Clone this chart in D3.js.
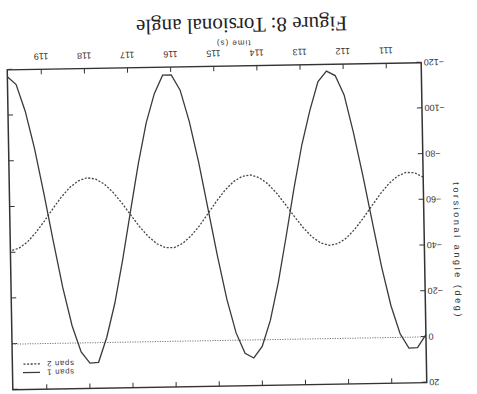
<!DOCTYPE html>
<html>
  <head>
    <meta charset="UTF-8">
    <title>Figure 8: Torsional angle</title>
    <style type="text/css">
      body { margin: 0; background: #fff; }
      svg { display: block; }
      .axis text { font-family: 'Liberation Sans', Arial, sans-serif; font-size: 9px; fill: #333; }
      .axis line { stroke: #333; stroke-width: 1; }
    </style>
  </head>
  <body>
    <script src="https://d3js.org/d3.v7.min.js"></script>
    <script>

      // Values, one sample every 0.2 s
      var time = [110.2, 110.4, 110.6, 110.8, 111.0, 111.2, 111.4, 111.6, 111.8, 112.0,
                  112.2, 112.4, 112.6, 112.8, 113.0, 113.2, 113.4, 113.6, 113.8, 114.0,
                  114.2, 114.4, 114.6, 114.8, 115.0, 115.2, 115.4, 115.6, 115.8, 116.0,
                  116.2, 116.4, 116.6, 116.8, 117.0, 117.2, 117.4, 117.6, 117.8, 118.0,
                  118.2, 118.4, 118.6, 118.8, 119.0, 119.2, 119.4, 119.6, 119.8];

      var span1 = [-1.0, 4.6, 4.8, -1.7, -14.0, -31.0, -50.9, -71.3, -90.0, -106.5,
                   -115.0, -117.0, -112.5, -100.0, -85.0, -66.0, -45.1, -25.1, -8.5, 2.9,
                   7.9, 5.8, -3.2, -17.9, -36.8, -57.6, -78.2, -96.0, -109.8, -116.5,
                   -116.5, -108.5, -95.8, -77.9, -57.2, -36.1, -17.1, -2.3, 8.6, 8.9,
                   3.9, -7.6, -24.3, -44.5, -65.6, -85.5, -101.8, -113.5, -117.0];

      var span2 = [-69.9, -71.9, -72.1, -70.5, -67.3, -62.9, -57.8, -52.6, -47.8, -43.9,
                   -41.5, -40.8, -41.9, -44.6, -48.7, -53.6, -58.9, -63.9, -68.1, -70.9,
                   -72.2, -71.6, -69.4, -65.7, -61.0, -55.7, -50.5, -46.1, -42.8, -41.0,
                   -41.0, -42.8, -46.1, -50.5, -55.7, -61.0, -65.7, -69.4, -71.6, -72.2,
                   -70.9, -68.1, -63.9, -58.9, -53.6, -48.7, -44.6, -41.9, -40.8];

      var seriesNames = ["span 1", "span 2"];
      var xTicks = [111, 112, 113, 114, 115, 116, 117, 118, 119];
      var yTicks = [-120, -100, -80, -60, -40, -20, 0, 20];

      var svgWidth = 477,
          svgHeight = 394,
          frame = {left: 10, right: 424, top: 66.25, bottom: 386.25},
          cx = (frame.left + frame.right) / 2,
          cy = (frame.top + frame.bottom) / 2,
          inkColor = "#333";

      var svg = d3.select("body")
                  .append("svg")
                  .attr("width", svgWidth)
                  .attr("height", svgHeight);

      svg.append("rect")
         .attr("width", svgWidth)
         .attr("height", svgHeight)
         .attr("fill", "#fff");

      // the scanned page is upside down and a little skewed
      var page = svg.append("g")
                    .attr("transform", "rotate(179," + cx + "," + cy + ")");

      // Scales
      var xScale = d3.scaleLinear()
                     .domain(d3.extent(time))
                     .range([frame.left, frame.right]);

      var yScale = d3.scaleLinear()
                     .domain([-120, 20])
                     .range([frame.bottom, frame.top]);

      // Axes, ticks pointing into the plot, mirrored on the other side
      var xAxis = d3.axisBottom(xScale).tickValues(xTicks).tickFormat(d3.format("d"))
                    .tickSizeInner(-5).tickSizeOuter(0).tickPadding(9.5);
      var xAxisTop = d3.axisTop(xScale).tickValues(xTicks).tickFormat("")
                       .tickSizeInner(-5).tickSizeOuter(0);
      var yAxis = d3.axisLeft(yScale).tickValues(yTicks).tickFormat(d3.format("d"))
                    .tickSizeInner(-5).tickSizeOuter(0).tickPadding(2.5);
      var yAxisRight = d3.axisRight(yScale).tickValues(yTicks).tickFormat("")
                         .tickSizeInner(-5).tickSizeOuter(0);

      page.append("g").attr("class", "axis")
          .attr("transform", "translate(0," + frame.bottom + ")")
          .call(xAxis);
      page.append("g").attr("class", "axis")
          .attr("transform", "translate(0," + frame.top + ")")
          .call(xAxisTop);
      page.append("g").attr("class", "axis")
          .attr("transform", "translate(" + frame.left + ",0)")
          .call(yAxis);
      page.append("g").attr("class", "axis")
          .attr("transform", "translate(" + frame.right + ",0)")
          .call(yAxisRight);

      page.selectAll(".axis .domain").remove();

      // zero line
      page.append("line")
          .attr("x1", xScale.range()[0])
          .attr("x2", xScale.range()[1])
          .attr("y1", yScale(0))
          .attr("y2", yScale(0))
          .attr("stroke", "#777")
          .attr("stroke-width", 1)
          .attr("stroke-dasharray", "1.2,1.3");

      // Series
      var line = d3.line()
                   .x((d, i) => xScale(time[i]))
                   .y(d => yScale(d));

      page.append("path")
          .datum(span2)
          .attr("d", line)
          .attr("fill", "none")
          .attr("stroke", "#444")
          .attr("stroke-width", 1.3)
          .attr("stroke-dasharray", "2,1.6");

      page.append("path")
          .datum(span1)
          .attr("d", line)
          .attr("fill", "none")
          .attr("stroke", "#3a3a3a")
          .attr("stroke-width", 1.3);

      // Frame
      page.append("rect")
          .attr("x", frame.left)
          .attr("y", frame.top)
          .attr("width", frame.right - frame.left)
          .attr("height", frame.bottom - frame.top)
          .attr("fill", "none")
          .attr("stroke", inkColor)
          .attr("stroke-width", 1.5);

      // Legend (top right, gnuplot style)
      var legend = page.selectAll(".legend")
                       .data(seriesNames)
                       .enter()
                       .append("g")
                       .attr("class", "legend")
                       .attr("transform", (d, i) => "translate(0," + (frame.top + 17 + i * 8.5) + ")");

      legend.append("text")
            .attr("x", frame.right - 34)
            .attr("dy", "0.33em")
            .attr("text-anchor", "end")
            .attr("font-family", "'Liberation Sans', Arial, sans-serif")
            .attr("font-size", 7.8)
            .attr("letter-spacing", 0.7)
            .attr("fill", inkColor)
            .text(d => d);

      legend.append("line")
            .attr("x1", frame.right - 27.5)
            .attr("x2", frame.right - 10.5)
            .attr("stroke", "#3a3a3a")
            .attr("stroke-width", 1.3)
            .attr("stroke-dasharray", (d, i) => i === 0 ? null : "2,1.6");

      // Axis titles
      page.append("text")
          .attr("x", xScale(114.55))
          .attr("y", frame.bottom + 25.5)
          .attr("text-anchor", "middle")
          .attr("font-family", "'Liberation Sans', Arial, sans-serif")
          .attr("font-size", 8)
          .attr("letter-spacing", 1)
          .attr("fill", inkColor)
          .text("time (s)");

      page.append("text")
          .attr("transform", "translate(" + (frame.left - 33) + "," + yScale(-37.5) + ") rotate(-90)")
          .attr("dy", "0.35em")
          .attr("text-anchor", "middle")
          .attr("font-family", "'Liberation Sans', Arial, sans-serif")
          .attr("font-size", 9)
          .attr("letter-spacing", 2.6)
          .attr("fill", inkColor)
          .text("torsional angle (deg)");

      // Caption
      page.append("text")
          .attr("x", xScale(114.35))
          .attr("y", frame.bottom + 47.5)
          .attr("text-anchor", "middle")
          .attr("font-family", "'Liberation Serif', 'Times New Roman', serif")
          .attr("font-size", 21)
          .attr("fill", "#222")
          .text("Figure 8: Torsional angle");

    </script>
  </body>
</html>
